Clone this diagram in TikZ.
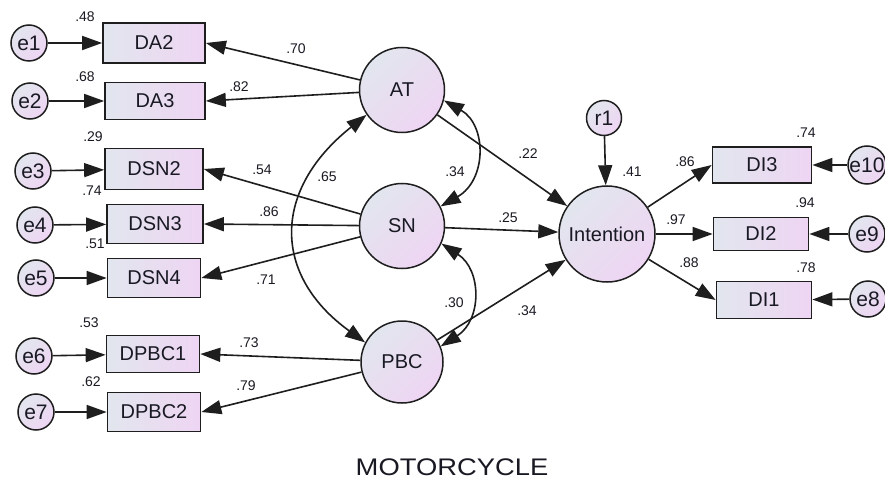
\documentclass[tikz,border=0pt]{standalone}
\usepackage{fontspec}
\setmainfont{Liberation Sans}
\newfontfamily\titlefont[FakeStretch=1.14]{Liberation Sans}
\usetikzlibrary{arrows.meta}
\definecolor{gA}{RGB}{226,230,238}
\definecolor{pA}{RGB}{238,213,243}
\definecolor{ln}{RGB}{30,30,30}
\definecolor{tx}{RGB}{25,25,35}
\tikzset{
  obs/.style={draw=ln, line width=1.7pt, rectangle, left color=gA, right color=pA,
    minimum width=96pt, minimum height=38pt, inner sep=0pt, text=tx,
    font=\fontsize{20}{20}\selectfont},
  lat/.style={draw=ln, line width=1.5pt, circle, top color=gA, bottom color=pA,
    shading angle=45, minimum size=85pt, inner sep=0pt, text=tx,
    font=\fontsize{20}{20}\selectfont},
  err/.style={draw=ln, line width=1.5pt, circle, top color=gA, bottom color=pA,
    shading angle=45, minimum size=36pt, inner sep=0pt, text=tx,
    font=\fontsize{21}{21}\selectfont},
  lab/.style={inner sep=0pt, text=tx, font=\fontsize{14}{14}\selectfont},
  arr/.style={draw=ln, line width=1.6pt, -{Triangle[length=20pt,width=14pt]}},
  dar/.style={draw=ln, line width=1.6pt,
    {Triangle[length=20pt,width=14pt]}-{Triangle[length=20pt,width=14pt]}},
}
\begin{document}
\begin{tikzpicture}[x=1pt,y=-1pt]
\useasboundingbox (0,0) rectangle (885,481);
% latent variables
\node[lat] (AT) at (402,90) {AT};
\node[lat] (SN) at (402,226) {SN};
\node[lat, minimum size=82pt] (PBC) at (402,362) {PBC};
\node[lat, minimum size=96pt] (INT) at (607,234) {Intention};
\node[err, minimum size=35pt] (r1) at (604,118) {r1};
% observed boxes
\node[obs, minimum width=102pt, minimum height=40pt] (DA2) at (154,43) {DA2};
\node[obs, minimum width=100pt, minimum height=37pt] (DA3) at (155,101) {DA3};
\node[obs, minimum width=98pt, minimum height=41pt] (DSN2) at (154,169) {DSN2};
\node[obs, minimum width=96pt, minimum height=39pt] (DSN3) at (155,224) {DSN3};
\node[obs, minimum width=93pt, minimum height=39pt] (DSN4) at (154,278) {DSN4};
\node[obs, minimum width=93pt, minimum height=37pt] (DPBC1) at (153,354) {DPBC1};
\node[obs, minimum width=93pt, minimum height=39pt] (DPBC2) at (154,412) {DPBC2};
\node[obs, minimum width=99pt, minimum height=36pt] (DI3) at (762,165) {DI3};
\node[obs, minimum width=95pt, minimum height=33pt] (DI2) at (761,234) {DI2};
\node[obs, minimum width=95pt, minimum height=37pt] (DI1) at (764,300) {DI1};
% errors
\node[err] (e1) at (29,43) {e1};
\node[err] (e2) at (30,101) {e2};
\node[err] (e3) at (33,171) {e3};
\node[err] (e4) at (35,225) {e4};
\node[err] (e5) at (36,278) {e5};
\node[err] (e6) at (34,356) {e6};
\node[err] (e7) at (36,412) {e7};
\node[err] (e10) at (867,165) {e10};
\node[err] (e9) at (867,234) {e9};
\node[err] (e8) at (868,299) {e8};
% error arrows
\draw[arr] (e1) -- (DA2);
\draw[arr] (e2) -- (DA3);
\draw[arr] (e3) -- (DSN2);
\draw[arr] (e4) -- (DSN3);
\draw[arr] (e5) -- (DSN4);
\draw[arr] (e6) -- (DPBC1);
\draw[arr] (e7) -- (DPBC2);
\draw[arr] (e10) -- (DI3);
\draw[arr] (e9) -- (DI2);
\draw[arr] (e8) -- (DI1);
\draw[arr] (r1) -- (INT);
% loadings
\draw[arr] (AT) -- (DA2.east);
\draw[arr] (AT) -- (DA3.east);
\draw[arr] (SN) -- (DSN2.east);
\draw[arr] (SN) -- (DSN3.east);
\draw[arr] (SN) -- (DSN4.east);
\draw[arr] (PBC) -- (DPBC1.east);
\draw[arr] (PBC) -- (DPBC2.east);
\draw[arr] (INT) -- (DI3.west);
\draw[arr] (INT) -- (DI2.west);
\draw[arr] (INT) -- (DI1.west);
% structural paths
\draw[arr] (AT) -- (INT);
\draw[arr] (SN) -- (INT);
\draw[arr] (PBC) -- (INT);
% covariances
\draw[dar] (AT.-14) .. controls (487,125) and (487,180) .. (SN.27);
\draw[dar] (SN.-24) .. controls (482,270) and (482,320) .. (PBC.22);
\draw[dar] (AT.215) .. controls (272,190) and (272,275) .. (PBC.152);
% labels
\node[lab] (l1) at (85,17) {.48};
\node[lab] (l2) at (85,77) {.68};
\node[lab] (l3) at (93,137) {.29};
\node[lab] (l4) at (92,191) {.74};
\node[lab] (l5) at (95,244) {.51};
\node[lab] (l6) at (89,323) {.53};
\node[lab] (l7) at (91,382) {.62};
\node[lab] (l8) at (296,49) {.70};
\node[lab] (l9) at (239,87) {.82};
\node[lab] (l10) at (262,170) {.54};
\node[lab] (l11) at (269,212) {.86};
\node[lab] (l12) at (266,280) {.71};
\node[lab] (l13) at (249,343) {.73};
\node[lab] (l14) at (246,386) {.79};
\node[lab] (l15) at (327,177) {.65};
\node[lab] (l16) at (455,172) {.34};
\node[lab] (l17) at (528,154) {.22};
\node[lab] (l18) at (508,218) {.25};
\node[lab] (l19) at (454,303) {.30};
\node[lab] (l20) at (527,311) {.34};
\node[lab] (l21) at (632,172) {.41};
\node[lab] (l22) at (685,162) {.86};
\node[lab] (l23) at (676,220) {.97};
\node[lab] (l24) at (689,263) {.88};
\node[lab] (l25) at (806,133) {.74};
\node[lab] (l26) at (805,203) {.94};
\node[lab] (l27) at (806,268) {.78};
\node[inner sep=0pt, anchor=base, text=tx, font=\titlefont\fontsize{24}{24}\selectfont] (title) at (452,475) {MOTORCYCLE};
\end{tikzpicture}
\end{document}
